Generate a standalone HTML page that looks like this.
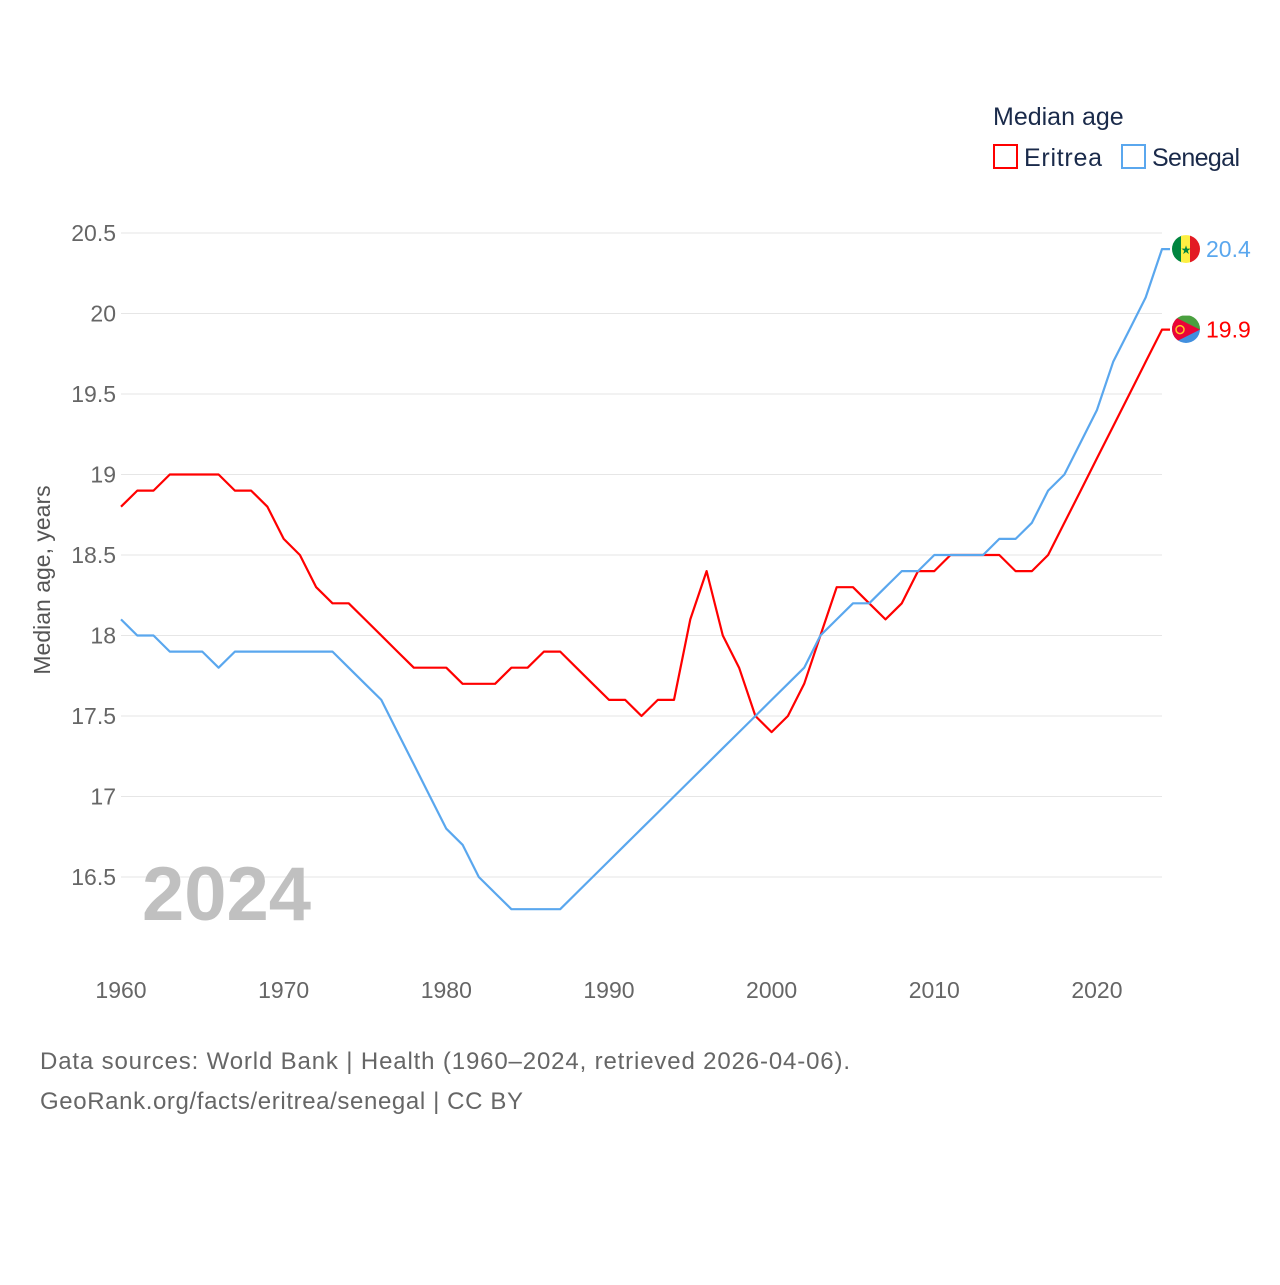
<!DOCTYPE html>
<html><head><meta charset="utf-8"><style>
body{margin:0;background:#fff;font-family:"Liberation Sans",sans-serif;}
svg text{font-family:"Liberation Sans",sans-serif;}
</style></head><body>
<svg id="chart" width="1280" height="1280" viewBox="0 0 1280 1280">
<defs>
<clipPath id="cs"><circle cx="1186" cy="249" r="14"/></clipPath>
<clipPath id="ce"><circle cx="1186" cy="329" r="14"/></clipPath>
</defs>
<g>
<text x="993" y="125" font-size="25" fill="#1a2a4a">Median age</text>
<rect x="994" y="145" width="23" height="23" fill="none" stroke="#ff0000" stroke-width="2"/>
<text x="1024" y="166" font-size="25" fill="#1a2a4a" textLength="78">Eritrea</text>
<rect x="1122" y="145" width="23" height="23" fill="none" stroke="#5aa7ee" stroke-width="2"/>
<text x="1152" y="166" font-size="25" fill="#1a2a4a" textLength="88">Senegal</text>
</g>
<g id="grid"></g>
<g id="yt"></g>
<g id="xt"></g>
<text transform="translate(50,580) rotate(-90)" text-anchor="middle" font-size="23" fill="#555">Median age, years</text>
<text x="142" y="920" font-size="76" font-weight="bold" fill="#c0c0c0">2024</text>
<g id="series"></g>
<text x="40" y="1069" font-size="24" fill="#666" textLength="810">Data sources: World Bank | Health (1960–2024, retrieved 2026-04-06).</text>
<text x="40" y="1109" font-size="24" fill="#666" textLength="483">GeoRank.org/facts/eritrea/senegal | CC BY</text>
</svg>
<script>
const years=[];for(let y=1960;y<=2024;y++)years.push(y);
const eritrea=[18.8,18.9,18.9,19.0,19.0,19.0,19.0,18.9,18.9,18.8,18.6,18.5,18.3,18.2,18.2,18.1,18.0,17.9,17.8,17.8,17.8,17.7,17.7,17.7,17.8,17.8,17.9,17.9,17.8,17.7,17.6,17.6,17.5,17.6,17.6,18.1,18.4,18.0,17.8,17.5,17.4,17.5,17.7,18.0,18.3,18.3,18.2,18.1,18.2,18.4,18.4,18.5,18.5,18.5,18.5,18.4,18.4,18.5,18.7,18.9,19.1,19.3,19.5,19.7,19.9];
const senegal=[18.1,18.0,18.0,17.9,17.9,17.9,17.8,17.9,17.9,17.9,17.9,17.9,17.9,17.9,17.8,17.7,17.6,17.4,17.2,17.0,16.8,16.7,16.5,16.4,16.3,16.3,16.3,16.3,16.4,16.5,16.6,16.7,16.8,16.9,17.0,17.1,17.2,17.3,17.4,17.5,17.6,17.7,17.8,18.0,18.1,18.2,18.2,18.3,18.4,18.4,18.5,18.5,18.5,18.5,18.6,18.6,18.7,18.9,19.0,19.2,19.4,19.7,19.9,20.1,20.4];
const yTicks=[16.5,17,17.5,18,18.5,19,19.5,20,20.5];
const yTickLabels=["16.5","17","17.5","18","18.5","19","19.5","20","20.5"];
const xTicks=[1960,1970,1980,1990,2000,2010,2020];
const NS="http://www.w3.org/2000/svg";
const X=v=>121+(v-1960)*(1162-121)/64;
const Y=v=>877-(v-16.5)*161;
function mk(t,a,p){const e=document.createElementNS(NS,t);for(const k in a)e.setAttribute(k,a[k]);p.appendChild(e);return e;}
const grid=document.getElementById('grid'),yt=document.getElementById('yt'),xt=document.getElementById('xt'),ser=document.getElementById('series');
yTicks.forEach((v,i)=>{
const l=mk('line',{x1:121,x2:1162,y1:Y(v),y2:Y(v),stroke:'#e6e6e6','stroke-width':1},grid);


const t=mk('text',{x:116,y:Y(v)+8,'text-anchor':'end','font-size':23,fill:'#666'},yt);t.textContent=yTickLabels[i];


});
xTicks.forEach(v=>{
const t=mk('text',{x:X(v),y:998,'text-anchor':'middle','font-size':23,fill:'#666'},xt);t.textContent=v;


});
function line(data,color,name){
let d=data.map((v,i)=>(i?'L':'M')+X(years[i]).toFixed(1)+','+Y(v).toFixed(1)).join(' ');
d+=' L'+(X(2024)+8)+','+Y(data[data.length-1]).toFixed(1);
const p=mk('path',{d:d,fill:'none',stroke:color,'stroke-width':2.2,'stroke-linejoin':'round'},ser);


const yv=Y(data[data.length-1]);
const g=mk('g',{},ser);


if(name==='senegal'){
 g.setAttribute('clip-path','url(#cs)');
 mk('rect',{x:1172,y:yv-14,width:10,height:28,fill:'#00853f'},g);
 mk('rect',{x:1181,y:yv-14,width:10,height:28,fill:'#fdef42'},g);
 mk('rect',{x:1190,y:yv-14,width:10,height:28,fill:'#e31b23'},g);
 mk('text',{x:1186,y:yv+5,'text-anchor':'middle','font-size':12,fill:'#00853f'},g).textContent='★';
}else{
 g.setAttribute('clip-path','url(#ce)');
 mk('rect',{x:1172,y:yv-14,width:28,height:14,fill:'#4aa03f'},g);
 mk('rect',{x:1172,y:yv,width:28,height:14,fill:'#418fde'},g);
 mk('polygon',{points:`1172,${yv-14} 1200,${yv} 1172,${yv+14}`,fill:'#ea0437'},g);
 mk('circle',{cx:1180,cy:yv,r:4,fill:'none',stroke:'#ffc726','stroke-width':1.5},g);
}
const t=mk('text',{x:1206,y:yv+8,'font-size':23,fill:color},ser);t.textContent=data[data.length-1].toFixed(1);


}
line(eritrea,'#ff0000','eritrea');
line(senegal,'#5aa7ee','senegal');
</script>
</body></html>
